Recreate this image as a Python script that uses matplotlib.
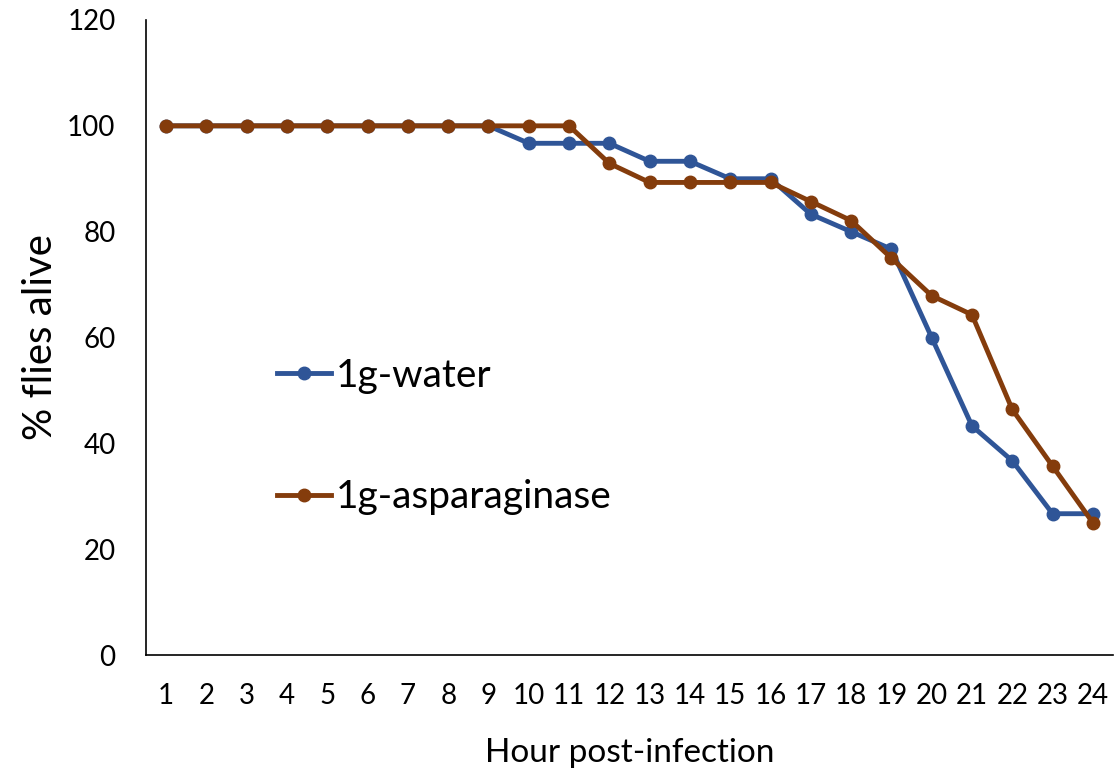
import matplotlib.pyplot as plt

hours = list(range(1, 25))
water = [100, 100, 100, 100, 100, 100, 100, 100, 100, 96.7, 96.7, 96.7,
         93.3, 93.3, 90, 90, 83.3, 80, 76.7, 60, 43.3, 36.7, 26.7, 26.7]
asparaginase = [100, 100, 100, 100, 100, 100, 100, 100, 100, 100, 100, 92.9,
                89.3, 89.3, 89.3, 89.3, 85.7, 82.1, 75, 67.9, 64.3, 46.4, 35.7, 25]

plt.rcParams['font.family'] = ['Lato', 'DejaVu Sans']

fig = plt.figure(figsize=(11.15, 7.69), dpi=100)
ax = fig.add_axes([146 / 1115, 1 - 655 / 769, (1113 - 146) / 1115, (655 - 20) / 769])

ax.plot(hours, water, color='#2F5597', lw=3.5, marker='o', ms=9, label='1g-water')
ax.plot(hours, asparaginase, color='#843C0C', lw=3.5, marker='o', ms=9, label='1g-asparaginase')

ax.set_xlim(0.5, 24.5)
ax.set_ylim(0, 120)
ax.set_xticks(hours)
ax.set_yticks(range(0, 121, 20))
ax.tick_params(length=0, labelsize=20, colors='#000000')
ax.tick_params(axis='x', pad=20)
ax.tick_params(axis='y', pad=22)
for s in ['top', 'right']:
    ax.spines[s].set_visible(False)
for s in ['left', 'bottom']:
    ax.spines[s].set_linewidth(1.2)

ax.set_xlabel('Hour post-infection', fontsize=24, labelpad=21)
ax.set_ylabel('% flies alive', fontsize=29, labelpad=6)

ax.legend(loc='center left', bbox_to_anchor=(0.099, 0.344), frameon=False,
          fontsize=28, labelspacing=2.2, handlelength=1.4, handletextpad=0.13)

plt.savefig('out.png', dpi=100)
